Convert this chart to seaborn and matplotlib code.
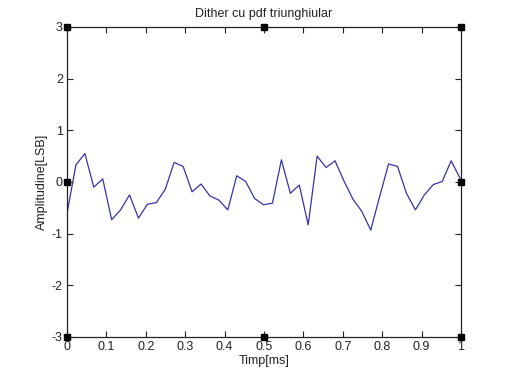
import numpy as np
import pandas as pd
import matplotlib
matplotlib.use('Agg')
import matplotlib.pyplot as plt
import seaborn as sns

# dither samples (LSB), 1 ms at 44.1 kHz
sample_rate_khz = 44.1
amplitude = [-0.61, 0.33, 0.55, -0.10, 0.06, -0.73, -0.54, -0.25, -0.70, -0.43,
             -0.40, -0.14, 0.38, 0.30, -0.19, -0.04, -0.27, -0.35, -0.54, 0.12,
             0.01, -0.32, -0.44, -0.41, 0.43, -0.22, -0.06, -0.83, 0.50, 0.28,
             0.41, 0.02, -0.33, -0.57, -0.93, -0.28, 0.35, 0.30, -0.22, -0.54,
             -0.25, -0.05, 0.01, 0.41, 0.07]
time_ms = np.arange(len(amplitude)) / sample_rate_khz

x_ticks = [0, 0.1, 0.2, 0.3, 0.4, 0.5, 0.6, 0.7, 0.8, 0.9, 1]
x_labels = ['0', '0.1', '0.2', '0.3', '0.4', '0.5', '0.6', '0.7', '0.8', '0.9', '1']
y_ticks = [-3, -2, -1, 0, 1, 2, 3]

df = pd.DataFrame({'t': time_ms, 'a': amplitude})

sns.set_style('ticks')
plt.rcParams['font.family'] = ['Liberation Sans', 'DejaVu Sans']
plt.rcParams['axes.unicode_minus'] = False
plt.rcParams['axes.edgecolor'] = '#222222'
plt.rcParams['axes.linewidth'] = 0.9

fig = plt.figure(figsize=(5.06, 3.78), dpi=100)
ax = fig.add_axes([0.1324, 0.1085, 0.7786, 0.8201])

sns.lineplot(data=df, x='t', y='a', ax=ax, color='#3434a8', linewidth=0.9)

ax.set_xlim(0, 1)
ax.set_ylim(-3, 3)
ax.set_xticks(x_ticks)
ax.set_xticklabels(x_labels)
ax.set_yticks(y_ticks)
ax.tick_params(direction='in', length=4, width=0.8, colors='#222222',
               top=True, right=True, labelsize=9, pad=3)
for lbl in ax.get_xticklabels() + ax.get_yticklabels():
    lbl.set_color('#222222')

ax.set_xlabel('Timp[ms]', fontsize=9, color='#222222', labelpad=1)
ax.set_ylabel('Amplitudine[LSB]', fontsize=9, color='#222222', labelpad=3)
ax.set_title('Dither cu pdf triunghiular', fontsize=9, color='#222222', pad=7)

# selection handles of the axes (MATLAB edit mode)
hx = [0, 0.5, 1, 0, 1, 0, 0.5, 1]
hy = [1, 1, 1, 0.5, 0.5, 0, 0, 0]
ax.plot(hx, hy, 's', transform=ax.transAxes, clip_on=False, ms=4.5,
        mfc='black', mec='black', zorder=5)

fig.savefig('out.png', dpi=100)
